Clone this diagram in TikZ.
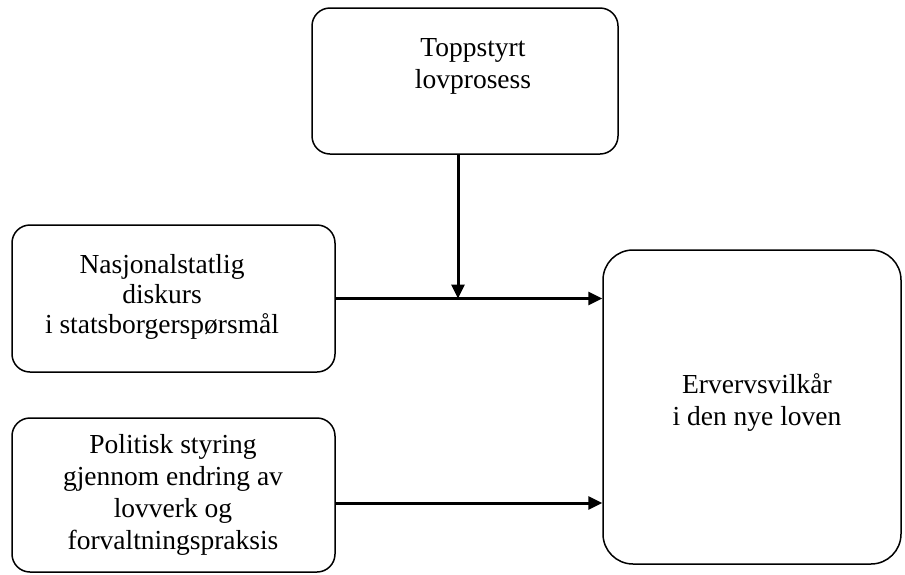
\documentclass[tikz,border=0pt]{standalone}
\usepackage{fontspec}
\setmainfont{Liberation Serif}
\usetikzlibrary{arrows.meta}
\begin{document}
\begin{tikzpicture}[x=1pt,y=-1pt,
  box/.style={draw=black, line width=1.5pt, rounded corners=18pt, inner sep=0pt, fill=white},
  bigbox/.style={box, rounded corners=30pt},
  label/.style={align=center, inner sep=0pt, font=\fontsize{27.5}{32}\selectfont},
  arr/.style={line width=3pt, -{Triangle[length=14pt,width=13pt]}}]
\useasboundingbox (0,0) rectangle (905,574);
\node[box, minimum width=306pt, minimum height=146pt] (top) at (465,81) {};
\node[box, minimum width=323pt, minimum height=147pt] (b1) at (173.5,298.5) {};
\node[box, minimum width=323pt, minimum height=154pt] (b2) at (173.5,495) {};
\node[bigbox, minimum width=298pt, minimum height=314pt] (res) at (752,407) {};
\node[label] (ttop) at (473,66) {Toppstyrt\\lovprosess};
\node[label, font=\fontsize{27.5}{30}\selectfont] (tb1) at (162,297) {Nasjonalstatlig\\diskurs\\i statsborgerspørsmål};
\node[label] (tb2) at (173,495) {Politisk styring\\gjennom endring av\\lovverk og\\forvaltningspraksis};
\node[label] (tres) at (757,403) {Ervervsvilkår\\i den nye loven};
\coordinate (j) at (458,298.5);
\coordinate (s2) at (335,503);
\draw[arr] (b1.east) -- (res.west |- b1.east);
\draw[arr] (top.south -| j) -- (j);
\draw[arr] (b2.east |- s2) -- (res.west |- s2);
\end{tikzpicture}
\end{document}
